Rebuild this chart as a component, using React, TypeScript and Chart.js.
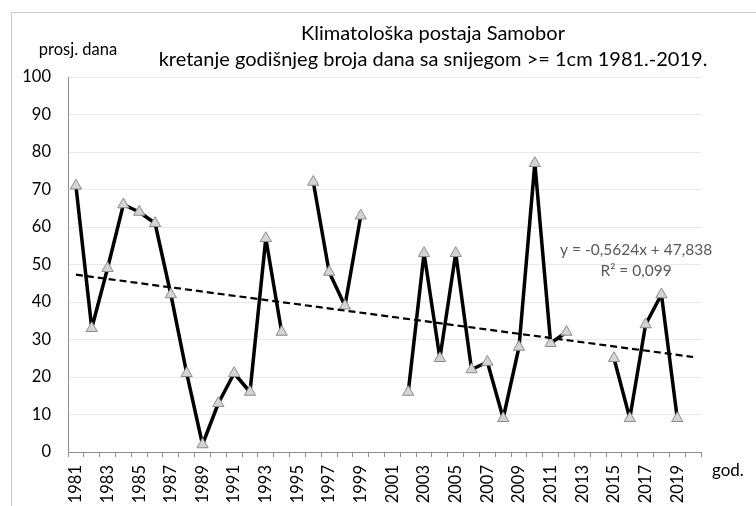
import React, { useEffect, useRef } from "react";
import { Chart, registerables } from "chart.js";

Chart.register(...registerables);

const years: string[] = [];
for (let y = 1981; y <= 2020; y++) years.push(String(y));

const snowDays: (number | null)[] = [
  71, 33, 49, 66, 64, 61, 42, 21, 2, 13,
  21, 16, 57, 32, null, 72, 48, 39, 63, null,
  null, 16, 53, 25, 53, 22, 24, 9, 28, 77,
  29, 32, null, null, 25, 9, 34, 42, 9, null,
];

// Linear trendline endpoints (y = -0,5624x + 47,838) at 1981 and 2020
const trendStartValue = 47.28;
const trendEndValue = 25.34;

const titleLines = [
  "Klimatološka postaja Samobor",
  "kretanje godišnjeg broja dana sa snijegom >= 1cm 1981.-2019.",
];
const yAxisTitle = "prosj. dana";
const xAxisTitle = "god.";
const trendLabel = ["y = -0,5624x + 47,838", "R² = 0,099"];

const FONT = "Lato, 'Noto Sans', sans-serif";

export default function App() {
  const ref = useRef<HTMLCanvasElement | null>(null);

  useEffect(() => {
    document.body.style.margin = "0";
    const canvas = ref.current;
    if (!canvas) return;

    const trend: (number | null)[] = years.map(() => null);
    trend[0] = trendStartValue;
    trend[years.length - 1] = trendEndValue;

    const textPlugin = {
      id: "texts",
      beforeDraw(chart: any) {
        const ctx = chart.ctx;
        ctx.save();
        ctx.strokeStyle = "#c9c9c9";
        ctx.lineWidth = 1;
        ctx.strokeRect(11.5, 12.5, 900, 700);
        ctx.restore();
      },
      afterDraw(chart: any) {
        const ctx = chart.ctx;
        ctx.save();
        ctx.fillStyle = "#000";
        ctx.textAlign = "center";
        ctx.textBaseline = "middle";
        ctx.font = `20px ${FONT}`;
        ctx.fillText(titleLines[0], 433, 34);
        ctx.fillText(titleLines[1], 433, 60);
        ctx.font = `16.5px ${FONT}`;
        ctx.fillText(yAxisTitle, 78, 50);
        ctx.textAlign = "left";
        ctx.font = `17px ${FONT}`;
        ctx.fillText(xAxisTitle, 712, 471);
        // trendline label
        const xs = chart.scales.x;
        const ys = chart.scales.y;
        ctx.fillStyle = "#595959";
        ctx.textAlign = "center";
        ctx.font = `15.5px ${FONT}`;
        const cx = xs.getPixelForValue(35.4);
        ctx.fillText(trendLabel[0], cx, ys.getPixelForValue(53.8));
        ctx.fillText(trendLabel[1], cx, ys.getPixelForValue(48.2));
        ctx.restore();
      },
    };

    const chart = new Chart(canvas, {
      type: "line",
      data: {
        labels: years,
        datasets: [
          {
            label: "trend",
            data: trend,
            borderColor: "#000",
            borderWidth: 2.2,
            borderDash: [7, 4],
            pointRadius: 0,
            spanGaps: true,
            order: 0,
          },
          {
            label: "dani",
            data: snowDays,
            borderColor: "#000",
            borderWidth: 3.5,
            borderJoinStyle: "round",
            borderCapStyle: "round",
            pointStyle: "triangle",
            pointRadius: 6.5,
            pointBackgroundColor: "#d4d4d4",
            pointBorderColor: "#8c8c8c",
            pointBorderWidth: 1,
            spanGaps: false,
            tension: 0,
            order: 1,
          },
        ],
      },
      options: {
        responsive: false,
        animation: false,
        devicePixelRatio: 1,
        layout: { padding: { left: 0, right: 55, top: 77, bottom: 0 } },
        plugins: {
          legend: { display: false },
          title: { display: false },
          tooltip: { enabled: false },
        },
        scales: {
          x: {
            type: "category",
            offset: true,
            grid: {
              display: true,
              offset: true,
              drawOnChartArea: false,
              drawTicks: true,
              tickLength: 5,
              color: "#8c8c8c",
            },
            border: { color: "#8c8c8c", width: 1 },
            ticks: {
              autoSkip: false,
              maxRotation: 90,
              minRotation: 90,
              padding: 8,
              color: "#000",
              font: { family: FONT, size: 16.5 },
              callback: (_v: any, i: number) => (i % 2 === 0 ? years[i] : ""),
            },
            afterFit: (s: any) => {
              s.height = 54;
            },
          },
          y: {
            min: 0,
            max: 100,
            ticks: {
              stepSize: 10,
              padding: 17,
              color: "#000",
              font: { family: FONT, size: 16.5 },
            },
            grid: { color: "#e8e8e8", drawTicks: false },
            border: { color: "#8c8c8c", width: 1 },
            afterFit: (s: any) => {
              s.width = 68;
            },
          },
        },
      },
      plugins: [textPlugin],
    });

    return () => chart.destroy();
  }, []);

  return (
    <div style={{ position: "absolute", left: 0, top: 0, width: 756, height: 506 }}>
      <canvas ref={ref} width={756} height={506} />
    </div>
  );
}
